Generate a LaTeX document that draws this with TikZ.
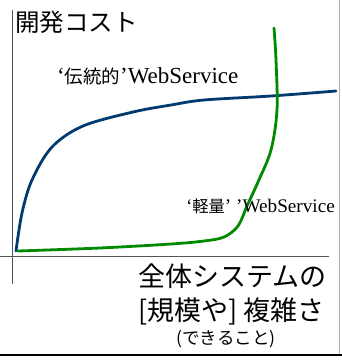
\documentclass[tikz,border=0pt]{standalone}
\usepackage{fontspec}
\setmainfont{Liberation Serif}
\newfontfamily\jp{Noto Sans CJK JP}
\definecolor{navy}{HTML}{003A6E}
\definecolor{grn}{HTML}{008A00}
\definecolor{axisgray}{HTML}{555555}
\begin{document}
\begin{tikzpicture}[x=1pt,y=-1pt,
  lbl/.style={inner sep=0pt,outer sep=0pt},
  curve/.style={line width=2.8pt,line cap=round,line join=round},
  axis/.style={draw=axisgray,line width=0.9pt}]
\useasboundingbox (0,0) rectangle (342,364);
% frame lines
\coordinate (fr1) at (339,0);
\coordinate (fr2) at (339,355);
\coordinate (bl) at (0,355);
\coordinate (br) at (342,355);
\draw[draw=gray!60,line width=0.8pt] (fr1) -- (fr2);
\draw[black,line width=2.4pt] (bl) -- (br);
% axes
\coordinate (ytop) at (12,10);
\coordinate (ybot) at (12,284);
\coordinate (xl) at (0,256);
\coordinate (xr) at (329,256);
\draw[axis] (ytop) -- (ybot);
\draw[axis] (xl) -- (xr);
% curves
\draw[curve,navy] plot[smooth,tension=0.55] coordinates
  {(16,251) (22,213) (32,180) (52,147) (83,126) (133,112) (171,105) (204,100) (271,96) (336,91)};
\draw[curve,grn] plot[smooth,tension=0.55] coordinates
  {(18,251) (100,248) (171,244) (204,241) (224,237) (238,226) (247,206) (258,182) (271,150) (277,110) (276,60) (274,28)};
% labels
\node[lbl,anchor=west,font=\jp\fontsize{24.5}{28}\selectfont] (ylab) at (15,22) {開発コスト};
\node[lbl,anchor=west] (trad) at (57,76)
  {\fontsize{23}{27}\selectfont ‘{\jp\fontsize{18.5}{22}\selectfont 伝統的}’WebService};
\node[lbl,anchor=west] (light) at (186,206)
  {\fontsize{19.2}{23}\selectfont ‘{\jp\fontsize{16.3}{20}\selectfont 軽量}’ ’WebService};
\node[lbl,anchor=west,font=\jp\fontsize{27}{30}\selectfont] (x1) at (138,276) {全体システムの};
\node[lbl,anchor=west,font=\jp\fontsize{27}{30}\selectfont] (x2) at (138,311) {[規模や] 複雑さ};
\node[lbl,anchor=center,font=\jp\fontsize{17.5}{20}\selectfont] (x3) at (226,339) {(できること)};
\end{tikzpicture}
\end{document}
